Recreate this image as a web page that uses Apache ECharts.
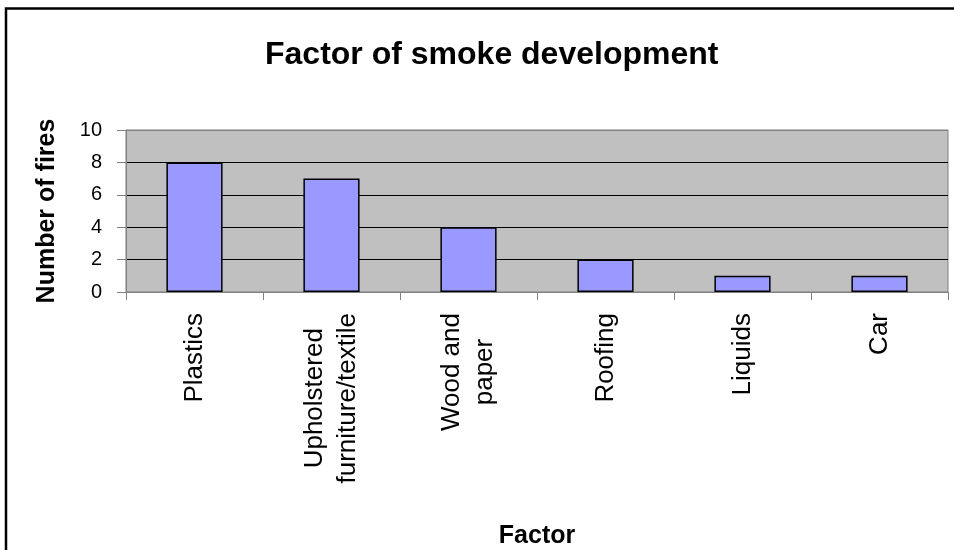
<!DOCTYPE html>
<html>
<head>
<meta charset="utf-8">
<script src="https://cdn.jsdelivr.net/npm/echarts@6/dist/echarts.min.js"></script>
<style>
  html, body { margin: 0; padding: 0; background: #fff; }
  #chart { width: 954px; height: 550px; }
</style>
</head>
<body>
<div id="chart"></div>
<script>
// Causes of smoke development, counted per fire
const categories = ['Plastics', 'Upholstered\nfurniture/textile', 'Wood and\npaper', 'Roofing', 'Liquids', 'Car'];
const fires = [8, 7, 4, 2, 1, 1];
const yTicks = { min: 0, max: 10, interval: 2 };

const FONT = '"Liberation Sans", Arial, sans-serif';

const chart = echarts.init(document.getElementById('chart'), null, { renderer: 'canvas' });

chart.setOption({
  animation: false,
  backgroundColor: '#ffffff',
  title: {
    text: 'Factor of smoke development',
    left: 260,
    top: 34,
    textStyle: { fontFamily: FONT, fontSize: 32, fontWeight: 'bold', color: '#000' }
  },
  graphic: [{
    type: 'rect',
    shape: { x: 6, y: 8.5, width: 1000, height: 600 },
    style: { fill: 'none', stroke: '#000', lineWidth: 2.5 },
    silent: true
  }],
  grid: {
    left: 126,
    right: 6,
    top: 130,
    bottom: 257.5,
    show: true,
    backgroundColor: '#C0C0C0',
    borderColor: '#808080',
    borderWidth: 1
  },
  xAxis: {
    type: 'category',
    data: categories,
    boundaryGap: true,
    name: 'Factor',
    nameLocation: 'middle',
    nameGap: 232,
    nameTextStyle: { fontFamily: FONT, fontSize: 25, fontWeight: 'bold', color: '#000' },
    axisLine: { show: true, lineStyle: { color: '#808080', width: 1 } },
    axisTick: { show: true, length: 8, lineStyle: { color: '#808080' } },
    axisLabel: {
      rotate: 90,
      margin: 21,
      interval: 0,
      fontFamily: FONT,
      fontSize: 26,
      lineHeight: 33,
      color: '#000',
      // each line of a wrapped label is centred on the longest line
      formatter: v => v.split('\n').map(s => '{c|' + s + '}').join('\n'),
      rich: {
        c: { align: 'center', fontFamily: FONT, fontSize: 26, lineHeight: 33, color: '#000' }
      }
    },
    splitLine: { show: false }
  },
  yAxis: {
    type: 'value',
    min: yTicks.min,
    max: yTicks.max,
    interval: yTicks.interval,
    name: 'Number of fires',
    nameLocation: 'middle',
    nameGap: 66,
    nameTextStyle: { fontFamily: FONT, fontSize: 25, fontWeight: 'bold', color: '#000' },
    axisLine: { show: true, lineStyle: { color: '#808080', width: 1 } },
    axisTick: { show: true, length: 9, lineStyle: { color: '#808080' } },
    axisLabel: { margin: 24, fontFamily: FONT, fontSize: 20, color: '#000' },
    splitLine: {
      show: true,
      lineStyle: { color: ['#808080', '#000', '#000', '#000', '#000', '#808080'], width: 1 }
    }
  },
  series: [{
    type: 'bar',
    data: fires,
    barWidth: '41%',
    itemStyle: { color: '#9999FF', borderColor: '#000', borderWidth: 1.5 }
  }]
});
</script>
</body>
</html>
